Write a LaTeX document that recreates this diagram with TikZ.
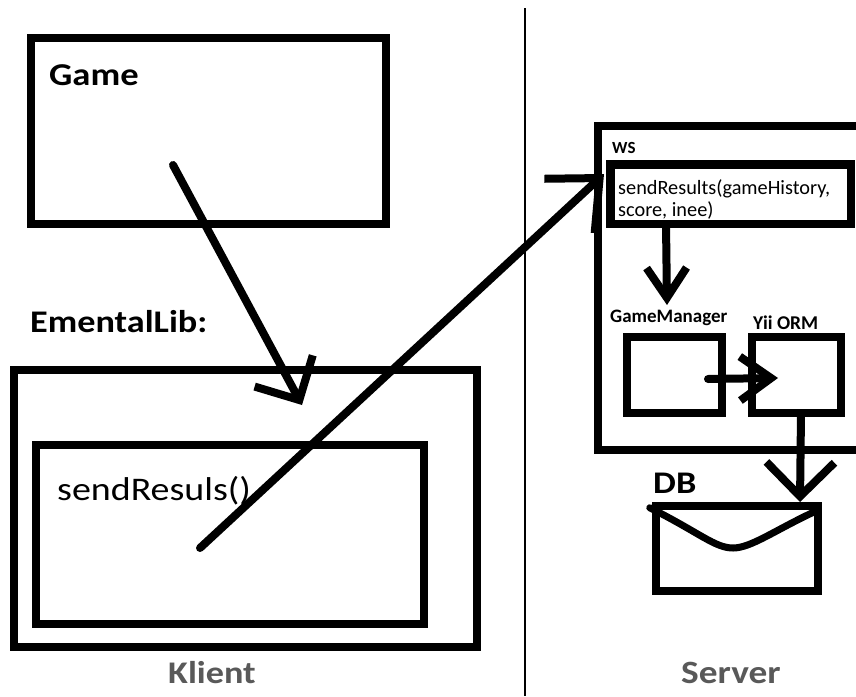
\documentclass[tikz,border=0pt]{standalone}
\usepackage{fontspec}
\setmainfont{Carlito}
\newfontfamily\widefont[FakeStretch=1.15]{Carlito}
\usetikzlibrary{arrows.meta}
\definecolor{labelgray}{HTML}{595959}
\begin{document}
\begin{tikzpicture}[x=1pt,y=-1pt,
  box/.style={draw, line width=8.5pt, inner sep=0pt, rectangle},
  lbl/.style={anchor=base west, inner sep=0pt, font=\bfseries\fontsize{#1}{#1}\selectfont},
  biglbl/.style={anchor=base west, inner sep=0pt, font=\widefont\bfseries\fontsize{#1}{#1}\selectfont},
  bigplain/.style={anchor=base west, inner sep=0pt, font=\widefont\fontsize{#1}{#1}\selectfont},
  plain/.style={anchor=base west, inner sep=0pt, font=\fontsize{#1}{#1}\selectfont},
  conn/.style 2 args={line width=8pt, line cap=round, -{Straight Barb[length=#1pt,width=#2pt]}},
  divider/.style={line width=1.5pt}
]
\path[use as bounding box, fill=white] (0,0) rectangle (856,696);
\clip (0,0) rectangle (856,696);

% boxes
\node[box, minimum width=355, minimum height=186] (game) at (208.5,131) {};
\node[box, minimum width=463, minimum height=277] (klient) at (245.5,508.5) {};
\node[box, minimum width=388, minimum height=179] (lib) at (230,534.5) {};
\node[box, minimum width=282, minimum height=324] (ws) at (739,288) {};
\node[box, minimum width=240.5, minimum height=59.5] (sr) at (730.75,194.25) {};
\node[box, minimum width=95, minimum height=76] (gm) at (674.5,375) {};
\node[box, minimum width=89, minimum height=76] (yii) at (796.5,375) {};
\node[box, minimum width=162, minimum height=85] (db) at (737,548.5) {};

% DB curve
\draw[line width=7pt, line cap=round] (db.north west) ++(-2,6) .. controls (700,533) and (715,548) .. (733,548) .. controls (751,548) and (775,530) .. (816,511);

% divider
\coordinate (dtop) at (525,8);
\coordinate (dbot) at (525,696);
\draw[divider] (dtop) -- (dbot);

% texts
\node[biglbl=31.8] (gamet) at (49,85) {Game};
\node[biglbl=31.5] (libt) at (30,332) {EmentalLib:};
\node[bigplain=33] (srt) at (57,500) {sendResuls()};
\node[biglbl=31.5, text=labelgray] (klt) at (168,683) {Klient};
\node[biglbl=32.5, text=labelgray] (svt) at (681,683) {Server};
\node[lbl=17] (wst) at (612,153) {WS};
\node[plain=20.3] (sr1) at (618,194) {sendResults(gameHistory,};
\node[plain=20.3] (sr2) at (618,216) {score, inee)};
\node[lbl=19] (gmt) at (610,322) {GameManager};
\node[lbl=19.5] (yiit) at (753,329) {Yii ORM};
\node[biglbl=31.5] (dbt) at (653,493) {DB};

% connectors
\coordinate (ga) at (173,165);
\coordinate (gb) at (302,405);
\draw[conn={33}{66}] (ga) -- (gb);

\coordinate (la) at (200,548);
\coordinate (lb) at (604,174);
\draw[conn={41}{74}] (la) -- (lb);

\coordinate (srb) at (666,224);
\coordinate (gmtop) at (667,305);
\draw[conn={30}{40}] (srb) -- (gmtop);

\coordinate (gmr) at (708,379);
\coordinate (yiil) at (778,378);
\draw[conn={31}{44}] (gmr) -- (yiil);

\coordinate (yiib) at (801,413);
\coordinate (dbtop) at (800,502);
\draw[conn={34}{68}] (yiib) -- (dbtop);
\end{tikzpicture}
\end{document}
